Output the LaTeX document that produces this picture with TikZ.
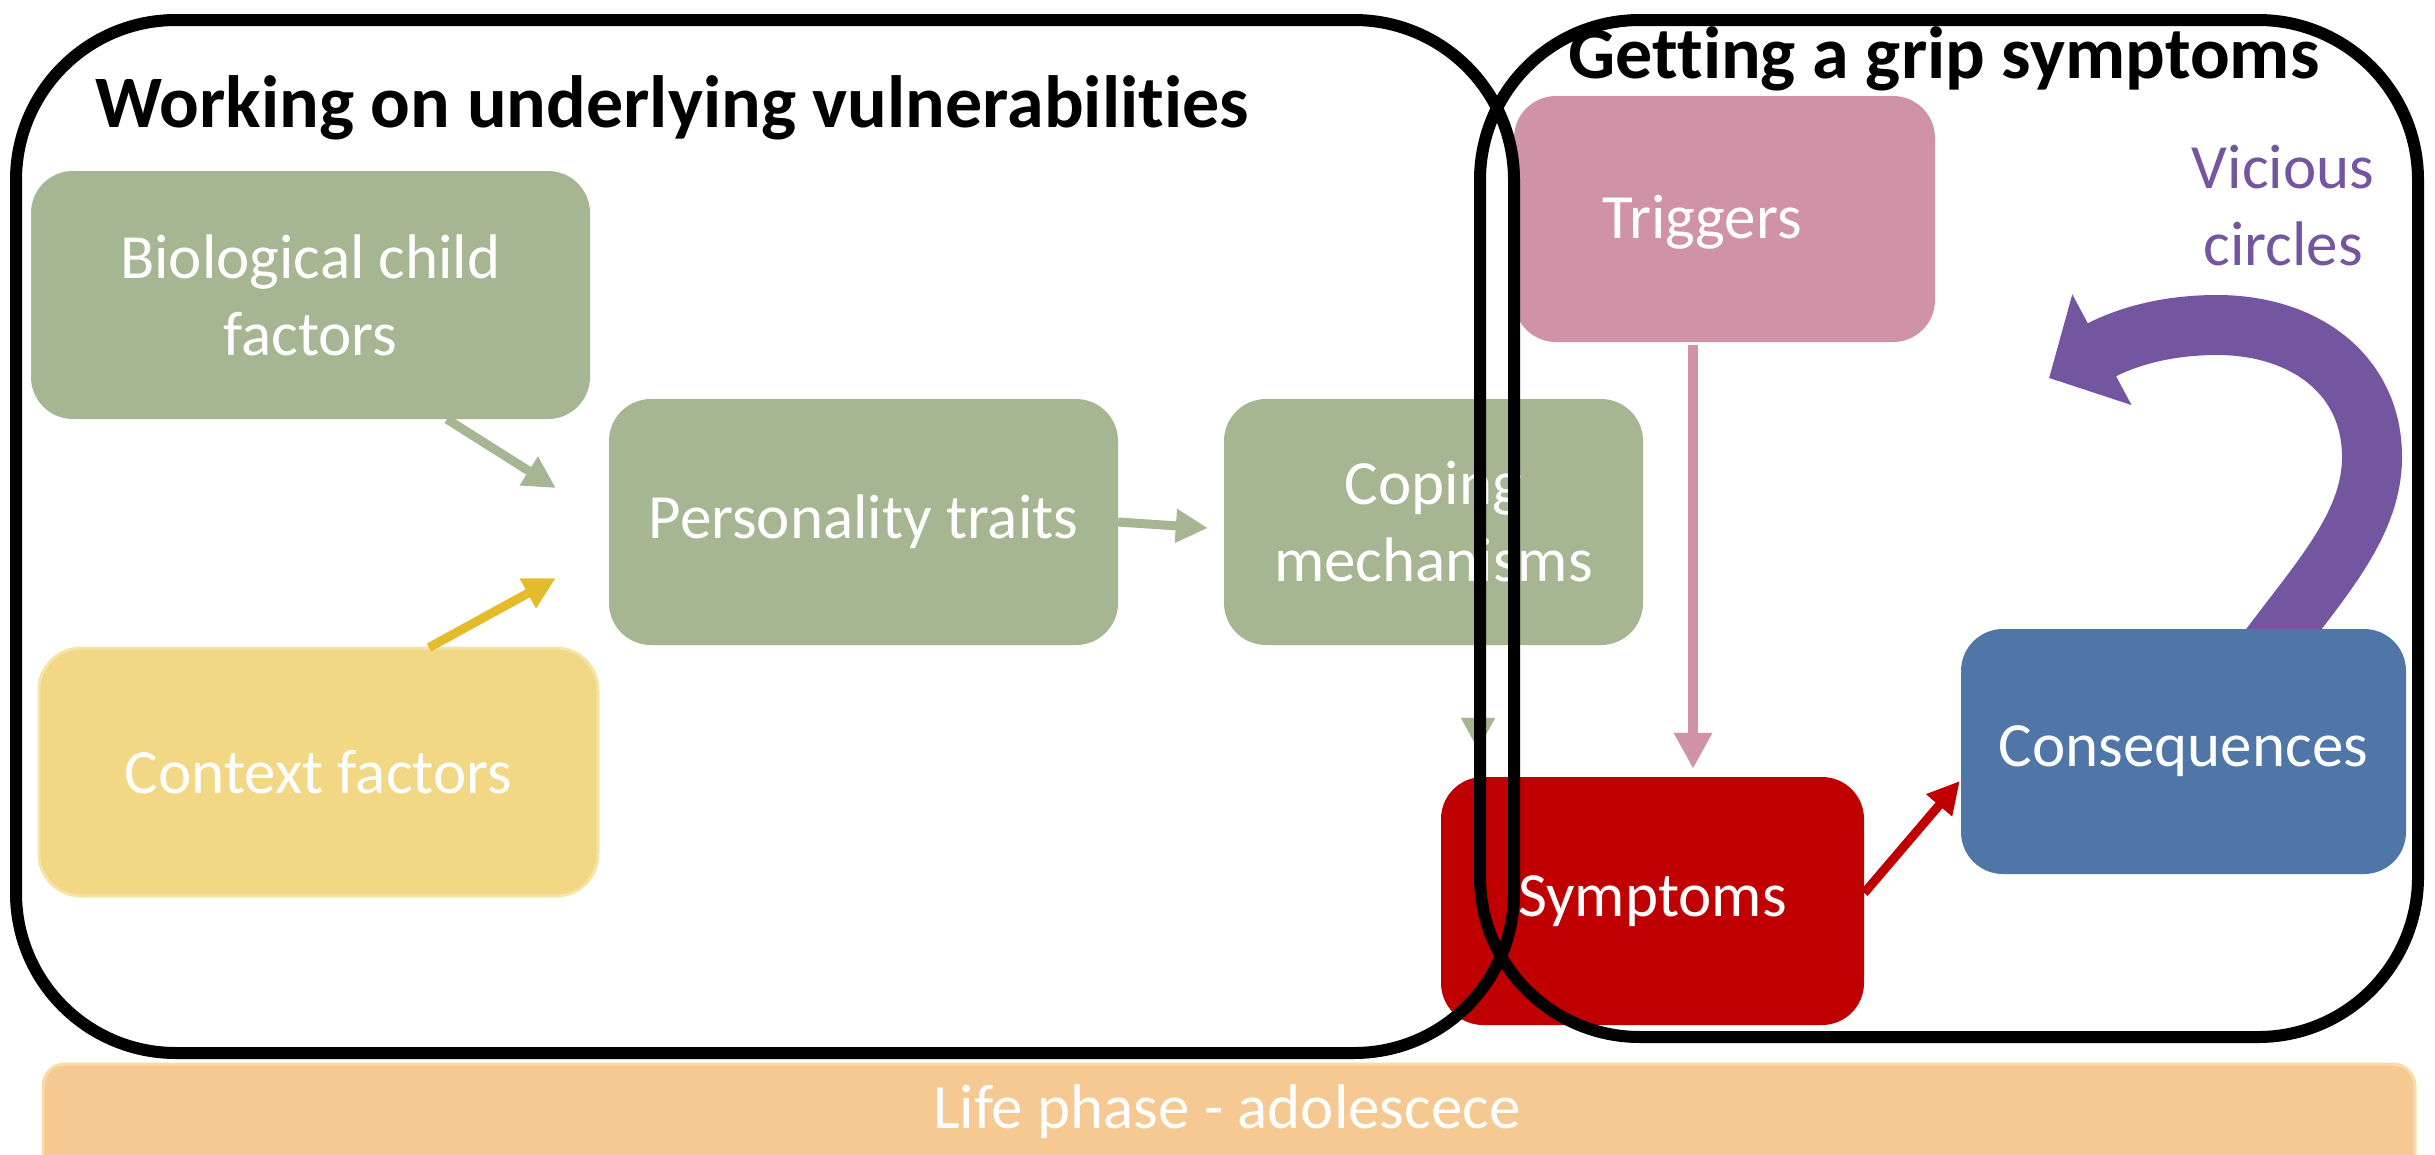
\documentclass[tikz,border=0pt]{standalone}
\usepackage{fontspec}
\setmainfont{Carlito}[Ligatures=NoCommon]
\usetikzlibrary{arrows.meta}
\definecolor{sage}{HTML}{A6B592}
\definecolor{ctxyellow}{HTML}{F2D785}
\definecolor{ctxedge}{HTML}{F6E3A8}
\definecolor{arrowyellow}{HTML}{E4BC2B}
\definecolor{trigpink}{HTML}{D092A7}
\definecolor{sympred}{HTML}{C00000}
\definecolor{consblue}{HTML}{4F76A6}
\definecolor{vcpurple}{HTML}{7455A0}
\definecolor{phaseorange}{HTML}{F5C991}
\definecolor{phaseedge}{HTML}{F9DCA8}
\begin{document}
\begin{tikzpicture}[x=1pt,y=-1pt,
  box/.style={rounded corners=42pt, inner sep=0pt, text=white, align=center,
              font=\fontsize{63}{77}\selectfont},
  boxtext/.style={inner sep=0pt, text=white, align=center, font=\fontsize{63}{77}\selectfont},
  conn/.style={line width=9pt, -{Triangle[length=32pt,width=32pt]}},
  outline/.style={draw=black, line width=12pt, rounded corners=160pt},
  heading/.style={font=\bfseries\fontsize{74}{89}\selectfont, inner sep=0pt, anchor=base}]
\useasboundingbox (0,0) rectangle (2435,1154);
\clip (0,0) rectangle (2435,1154);
\fill[white] (0,0) rectangle (2435,1154);

% vicious circle arrow (drawn first so the consequences box covers its foot)
\coordinate (vcstart) at (2268,650);
\coordinate (vcend) at (2049,378);
\draw[vcpurple, line width=60pt, -{Triangle[length=60pt,width=122pt]}]
  (vcstart) .. controls (2320,580) and (2372,525) .. (2372,457)
  .. controls (2372,375) and (2305,325) .. (2217,325)
  .. controls (2160,325) and (2120,340) .. (vcend);

% boxes
\node[box, fill=sage, minimum width=559pt, minimum height=248pt] (bio) at (310.5,295) {Biological child\\factors};
\node[box, fill=ctxyellow, draw=ctxedge, line width=3pt, minimum width=559pt, minimum height=248pt] (ctx) at (318.5,772) {Context factors};
\node[box, fill=sage, minimum width=509pt, minimum height=246pt] (pers) at (863.5,522) {Personality traits};
\node[box, fill=sage, minimum width=419pt, minimum height=246pt] (cope) at (1433.5,522) {Coping\\mechanisms};
\node[box, fill=trigpink, minimum width=421pt, minimum height=246pt] (trig) at (1724.5,219) {};
\node[boxtext] (trigtext) at (1702,222) {Triggers};
\node[box, fill=sympred, minimum width=423pt, minimum height=248pt] (symp) at (1652.5,901) {Symptoms};
\node[box, fill=consblue, minimum width=445pt, minimum height=245pt] (cons) at (2183.5,751.5) {Consequences};
\node[fill=phaseorange, draw=phaseedge, line width=3pt, rounded corners=22pt, inner sep=0pt,
      minimum width=2372pt, minimum height=150pt] (phase) at (1229,1139) {};
\node[boxtext] (phasetext) at (1227,1112) {Life phase - adolescece};

% connectors
\draw[conn, sage] ([shift={(136.5,0)}]bio.south) -- ([shift={(-53,-34)}]pers.west);
\draw[conn, arrowyellow] ([shift={(110.5,1)}]ctx.north) -- ([shift={(-53,56)}]pers.west);
\draw[conn, sage] (pers.east) -- ([shift={(-16,6)}]cope.west);
\draw[conn, sage] ([shift={(44.5,0)}]cope.south) -- ([shift={(-174.5,-27)}]symp.north);
\draw[line width=10pt, trigpink, -{Triangle[length=36pt,width=36pt]}] ([shift={(-31.5,3)}]trig.south) -- ([shift={(40.5,-8)}]symp.north);
\draw[conn, sympred] ([shift={(0,-8)}]symp.east) -- ([shift={(-1,29.5)}]cons.west);

% the two working areas
\draw[outline] (16,20) rectangle (1514,1053);
\draw[outline] (1480,20) rectangle (2418,1037);

% headings
\node[heading] (headleft) at (672,127) {Working on underlying vulnerabilities};
\node[heading] (headright) at (1944,78) {Getting a grip symptoms};
\node[boxtext, text=vcpurple] (vctext) at (2283,206) {Vicious\\circles};
\end{tikzpicture}
\end{document}
